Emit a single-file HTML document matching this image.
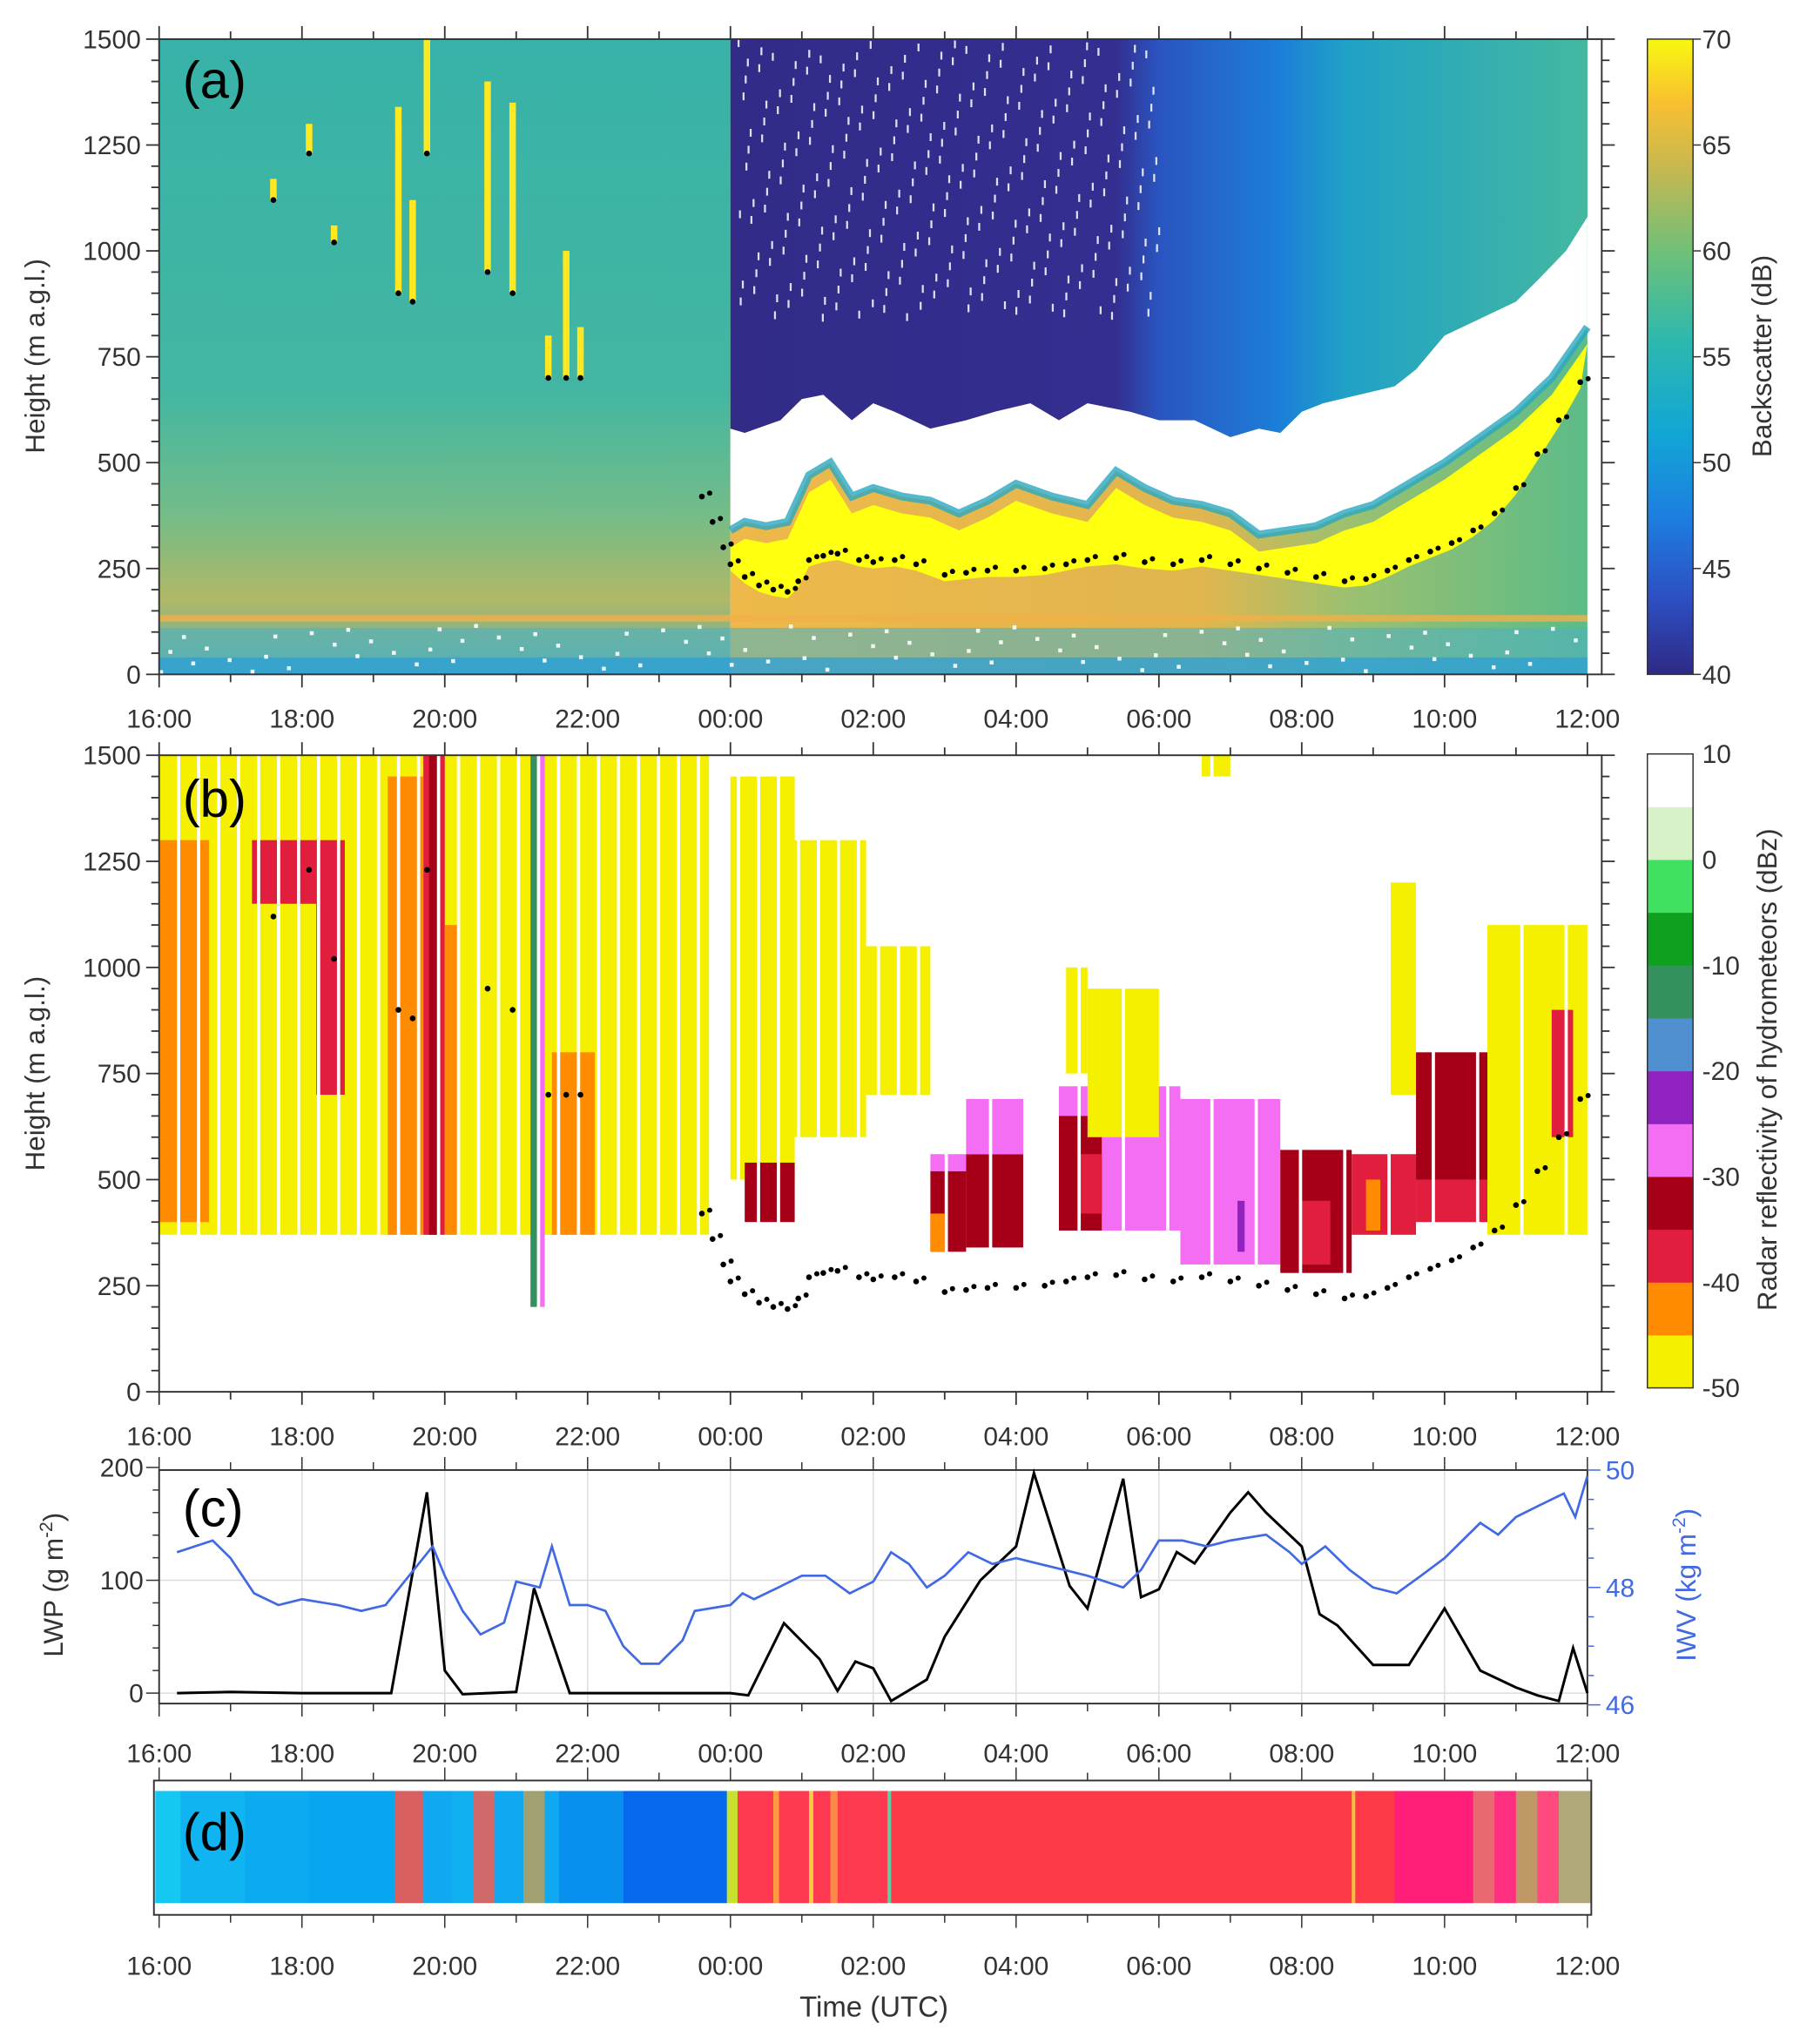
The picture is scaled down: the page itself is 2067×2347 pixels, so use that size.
<!DOCTYPE html>
<html><head><meta charset="utf-8"><style>
html,body{margin:0;padding:0;background:#fff}
svg{display:block}
text{font-family:"Liberation Sans",sans-serif;fill:#333}
</style></head><body>
<svg id="fig" width="2067" height="2347" viewBox="0 0 1380 1567" preserveAspectRatio="none" xmlns="http://www.w3.org/2000/svg">
<defs>
<linearGradient id="cbA" x1="0" y1="1" x2="0" y2="0">
<stop offset="0" stop-color="#2e2a86"/><stop offset="0.12" stop-color="#2d4fc2"/><stop offset="0.25" stop-color="#1d7fe0"/><stop offset="0.38" stop-color="#12a6d6"/><stop offset="0.52" stop-color="#2bb8b0"/><stop offset="0.66" stop-color="#6cc07a"/><stop offset="0.8" stop-color="#c8b850"/><stop offset="0.9" stop-color="#f8c030"/><stop offset="1" stop-color="#f8f810"/>
</linearGradient>
<linearGradient id="upperBlue" x1="0" y1="0" x2="1" y2="0">
<stop offset="0" stop-color="#322b88"/><stop offset="0.45" stop-color="#332f90"/><stop offset="0.5" stop-color="#2a55c0"/><stop offset="0.64" stop-color="#1c7ed8"/><stop offset="0.72" stop-color="#20a2c6"/><stop offset="1" stop-color="#44b8a0"/>
</linearGradient>
<linearGradient id="belowA" x1="0" y1="0" x2="1" y2="0">
<stop offset="0" stop-color="#eeb84a"/><stop offset="0.55" stop-color="#e0b64e"/><stop offset="0.72" stop-color="#9cc070"/><stop offset="1" stop-color="#5cbc88"/>
</linearGradient>
<linearGradient id="leftA" x1="0" y1="0" x2="0" y2="1">
<stop offset="0" stop-color="#38b2a8"/><stop offset="0.55" stop-color="#42b6a2"/><stop offset="0.75" stop-color="#74bc88"/><stop offset="0.88" stop-color="#b0b866"/><stop offset="1" stop-color="#60b0a8"/>
</linearGradient>
</defs>
<g id="root"></g>
</svg>
<script>
// ---------- DATA ----------
const hourLabels = ["16:00","18:00","20:00","22:00","00:00","02:00","04:00","06:00","08:00","10:00","12:00"];
const heightTicks = [0,250,500,750,1000,1250,1500];
const cbarATicks = [40,45,50,55,60,65,70];
const cbarBTicks = [-50,-40,-30,-20,-10,0,10];
const cbarBColors = ["#f5f000","#ff8c00","#e21e3e","#a50018","#f46ef4","#9022c0","#5090d0","#34905c","#10a020","#40e060","#d8f2c8","#ffffff"];
// cloud base height (hours after 16:00, metres)
const cbhTime = [7.6,7.75,7.9,8.0,8.2,8.4,8.6,8.8,8.95,9.1,9.3,9.5,9.8,10.0,10.3,10.6,11.0,11.3,11.6,12.0,12.4,12.7,13.0,13.4,13.8,14.2,14.6,15.0,15.4,15.8,16.2,16.6,16.9,17.2,17.5,17.8,18.1,18.4,18.7,19.0,19.3,19.6,19.9];
const cbhVal  = [420,360,300,260,230,210,200,195,220,270,280,285,270,265,270,260,235,240,245,245,250,260,270,275,265,260,270,260,250,240,230,220,225,245,270,290,310,340,380,440,520,600,690];
// liquid cloud top (top of yellow) and bottom of upper blue region
const topTime = [8.0,8.2,8.5,8.8,9.1,9.4,9.7,10.0,10.4,10.8,11.2,11.6,12.0,12.5,13.0,13.4,13.8,14.2,14.6,15.0,15.4,15.8,16.2,16.6,17.0,17.5,18.0,18.5,19.0,19.5,20.0];
const topVal  = [340,360,350,360,470,500,420,440,420,410,380,410,450,420,400,480,440,410,400,380,330,340,350,380,400,450,500,560,620,700,820];
const navTime = [8.0,8.2,8.7,9.0,9.3,9.7,10.0,10.3,10.8,11.3,11.7,12.2,12.6,13.0,13.6,14.0,14.5,15.0,15.4,15.7,16.0,16.3,16.8,17.3,17.6,18.0,18.5,19.0,19.3,19.7,20.0];
const navVal  = [580,570,600,650,660,600,640,620,580,600,620,640,600,640,620,600,600,560,580,570,620,640,660,680,720,800,840,880,930,1000,1080];
// panel (a) cirrus fall streaks (time, top, bottom)
const streakT = [1.6,2.1,2.45,3.35,3.55,3.75,4.6,4.95,5.45,5.7,5.9];
const streakTop = [1170,1300,1060,1340,1120,1500,1400,1350,800,1000,820];
const streakBot = [1120,1230,1020,900,880,1230,950,900,700,700,700];
// panel (b) regions [start h, end h, base m, top m, colour index]
const bStart = [0,0,1.3,2.2,3.2,3.7,3.78,4.0,5.5,5.2,5.3,8.0,8.9,9.9,8.2,10.8,10.8,11.3,11.3,10.8,12.6,12.6,12.9,14.3,15.1,15.7,16.0,16.7,16.9,17.6,17.6,18.6,19.5,12.7,13.0,14.6,17.2];
const bEnd   = [7.7,0.7,2.2,2.6,3.7,4.0,3.9,4.2,6.1,5.3,5.4,8.9,9.9,10.8,8.9,11.3,11.3,12.1,12.1,11.0,14.3,13.2,13.2,15.7,15.2,16.7,16.4,17.6,17.1,18.6,18.6,20.0,19.8,13.0,14.0,15.0,17.6];
const bBase  = [370,400,1150,700,370,370,370,370,370,200,200,500,600,700,400,330,520,340,560,330,380,380,420,300,330,280,300,370,380,500,400,370,600,750,600,1450,700];
const bTop   = [1500,1300,1300,1300,1450,1500,1500,1100,800,1500,1500,1450,1300,1050,540,520,560,560,690,420,720,650,560,690,450,570,450,560,500,800,500,1100,900,1000,950,1500,1200];
const bCol   = [0,1,2,2,1,2,3,1,1,7,4,0,0,0,3,3,4,3,4,1,4,3,2,4,5,3,2,2,1,3,2,0,2,0,0,0,0];
// LWP and IWV time series
const lwpTime = [0.25,1,2,3,3.25,3.75,4,4.25,5,5.25,5.75,6,7,8,8.25,8.75,9.25,9.5,9.75,10,10.25,10.75,11,11.5,12,12.25,12.75,13,13.5,13.75,14,14.25,14.5,15,15.25,15.5,16,16.25,16.5,17,17.5,18,18.5,19,19.3,19.6,19.8,20];
const lwpVal  = [0,1,0,0,0,178,20,-1,1,93,0,0,0,0,-2,62,30,2,28,22,-7,12,50,100,130,195,95,75,190,85,92,125,115,160,178,160,130,70,60,25,25,75,20,5,-2,-7,40,0];
const iwvTime = [0.25,0.75,1,1.33,1.67,2,2.5,2.83,3.17,3.5,3.83,4,4.25,4.5,4.83,5,5.33,5.5,5.75,6,6.25,6.5,6.75,7,7.33,7.5,8,8.17,8.33,8.67,9,9.33,9.67,10,10.25,10.5,10.75,11,11.33,11.67,12,12.33,12.67,13,13.5,13.75,14,14.33,14.67,15,15.5,15.83,16,16.33,16.67,17,17.33,17.67,18,18.25,18.5,18.75,19,19.33,19.67,19.83,20];
const iwvVal  = [48.6,48.8,48.5,47.9,47.7,47.8,47.7,47.6,47.7,48.2,48.7,48.2,47.6,47.2,47.4,48.1,48.0,48.7,47.7,47.7,47.6,47.0,46.7,46.7,47.1,47.6,47.7,47.9,47.8,48.0,48.2,48.2,47.9,48.1,48.6,48.4,48.0,48.2,48.6,48.4,48.5,48.4,48.3,48.2,48.0,48.3,48.8,48.8,48.7,48.8,48.9,48.6,48.4,48.7,48.3,48.0,47.9,48.2,48.5,48.8,49.1,48.9,49.2,49.4,49.6,49.2,49.9];
// panel (d) classification strip [start h, end h, colour]
const dStart = [-0.07,0.3,1.2,2.1,3.3,3.7,4.1,4.4,4.7,5.1,5.4,5.6,6.5,7.95,8.1,8.6,8.68,9.1,9.16,9.4,9.5,10.2,10.25,16.7,16.75,17.3,18.4,18.7,19.0,19.3,19.6];
const dEnd   = [0.3,1.2,2.1,3.3,3.7,4.1,4.4,4.7,5.1,5.4,5.6,6.5,7.95,8.1,8.6,8.68,9.1,9.16,9.4,9.5,10.2,10.25,16.7,16.75,17.3,18.4,18.7,19.0,19.3,19.6,20.05];
const dCol   = ["#14c8f2","#10b4f0","#0caaf0","#08a6f0","#d86060","#10a8f0","#10b0f0","#d06a6a","#10a8f0","#a0a070","#10a8f0","#0890ee","#0668ea","#c8e030","#ff3a50","#ff9a40","#ff3a50","#f0d040","#ff3a50","#ff8a48","#ff3a50","#60d0a0","#ff3a48","#f0c040","#ff3a48","#ff1e78","#e86a70","#ff3080","#c09868","#ff4a80","#b0a878"];

// ---------- HELPERS ----------
const NS="http://www.w3.org/2000/svg";
const root=document.getElementById('root');
function mk(tag,attrs,parent){const e=document.createElementNS(NS,tag);for(const k in attrs)e.setAttribute(k,attrs[k]);(parent||root).appendChild(e);return e;}
const X0=122,X1=1217;
function xH(h){return X0+h*(X1-X0)/20;}
function yA(m){return 517-m*487/1500;}
function yB(m){return 1067-m*488/1500;}
function yL(v){return 1298-v*0.865;}
function yI(v){return 1127+(50-v)*45;}

// ---------- PANEL A ----------
const gA=mk('g',{});


mk('rect',{x:xH(0),y:yA(1500),width:xH(8)-xH(0),height:yA(0)-yA(1500),fill:'url(#leftA)'},gA);
mk('rect',{x:xH(8),y:yA(1500),width:xH(20)-xH(8),height:yA(0)-yA(1500),fill:'url(#belowA)'},gA);
mk('rect',{x:xH(0),y:yA(140),width:xH(20)-xH(0),height:5,fill:'#f0b048',opacity:0.8},gA);
mk('rect',{x:xH(0),y:yA(110),width:xH(20)-xH(0),height:yA(0)-yA(110),fill:'#50b0c0',opacity:0.6},gA);
mk('rect',{x:xH(0),y:yA(40),width:xH(20)-xH(0),height:yA(0)-yA(40),fill:'#2a9ed8',opacity:0.7},gA);
for(let i=0;i<90;i++){const t=((i*3.77)%20);const m=((i*53.3)%110)+10;
 mk('rect',{x:xH(t),y:yA(m),width:3,height:3,fill:'#fff',opacity:0.9},gA);}
let p='';
for(let i=0;i<navTime.length;i++){p+=xH(navTime[i])+','+yA(navVal[i])+' ';}
p+=xH(20)+','+yA(1500)+' '+xH(8)+','+yA(1500);
mk('polygon',{points:p,fill:'url(#upperBlue)'},gA);
p='';
for(let i=0;i<navTime.length;i++){p+=xH(navTime[i])+','+yA(navVal[i])+' ';}
for(let i=topTime.length-1;i>=0;i--){p+=xH(topTime[i])+','+yA(topVal[i])+' ';}
mk('polygon',{points:p,fill:'#ffffff'},gA);
p='';
for(let i=0;i<topTime.length;i++){p+=xH(topTime[i])+','+yA(topVal[i]-40)+' ';}
for(let i=cbhTime.length-1;i>=0;i--){if(cbhTime[i]>=8)p+=xH(cbhTime[i])+','+yA(cbhVal[i]-15)+' ';}
mk('polygon',{points:p,fill:'#ffff10'},gA);
p='';
for(let i=0;i<topTime.length;i++){p+=xH(topTime[i])+','+yA(topVal[i])+' ';}
mk('polyline',{points:p,fill:'none',stroke:'#2aa8c0',"stroke-width":6,opacity:0.8},gA);
for(let i=0;i<300;i++){const t=8.1+((i*7.31)%5.9);const m=1500-((i*137.7)%650);
 mk('rect',{x:xH(t),y:yA(m),width:1.5,height:6,fill:'#fff',opacity:0.85},gA);}
for(let i=0;i<streakT.length;i++){
 mk('rect',{x:xH(streakT[i])-2.5,y:yA(streakTop[i]),width:5,height:yA(streakBot[i])-yA(streakTop[i]),fill:'#ffe820'},gA);}
for(let i=0;i<cbhTime.length;i++){
 mk('circle',{cx:xH(cbhTime[i]),cy:yA(cbhVal[i]),r:2.2,fill:'#000'},gA);
 mk('circle',{cx:xH(cbhTime[i])+6,cy:yA(cbhVal[i]+8),r:2,fill:'#000'},gA);}
for(let i=0;i<streakT.length;i++){mk('circle',{cx:xH(streakT[i]),cy:yA(streakBot[i]),r:2.2,fill:'#000'},gA);}

// ---------- PANEL B ----------
const gB=mk('g',{});


for(let i=0;i<bStart.length;i++){
 const r=mk('rect',{x:xH(bStart[i]),y:yB(bTop[i]),width:xH(bEnd[i])-xH(bStart[i]),height:yB(bBase[i])-yB(bTop[i]),fill:cbarBColors[bCol[i]]},gB);
 
 
}
for(let h=0.25;h<10.7;h+=0.28){mk('rect',{x:xH(h),y:yB(1500),width:2.5,height:yB(0)-yB(1500),fill:'#fff'},gB);}
for(let h=11.0;h<20;h+=0.62){mk('rect',{x:xH(h),y:yB(1500),width:2.5,height:yB(0)-yB(1500),fill:'#fff'},gB);}
for(let i=0;i<cbhTime.length;i++){
 mk('circle',{cx:xH(cbhTime[i]),cy:yB(cbhVal[i]),r:2.2,fill:'#000'},gB);
 mk('circle',{cx:xH(cbhTime[i])+6,cy:yB(cbhVal[i]+8),r:2,fill:'#000'},gB);}
for(let i=0;i<streakT.length;i++){mk('circle',{cx:xH(streakT[i]),cy:yB(streakBot[i]),r:2.2,fill:'#000'},gB);}

// ---------- AXES ----------
function frame(top,bot,left,right,name){
 const r=mk('rect',{x:left,y:top,width:right-left,height:bot-top,fill:'none',stroke:'#333',"stroke-width":1.3});
 
 
}
function xAxis(top,bot,labY){
 for(let h=0;h<=20;h++){const x=xH(h);const len=h%2==0?10:6;
  mk('line',{x1:x,y1:bot,x2:x,y2:bot+len,stroke:'#333',"stroke-width":1.2});
  mk('line',{x1:x,y1:top,x2:x,y2:top-len,stroke:'#333',"stroke-width":1.2});}
 for(let i=0;i<hourLabels.length;i++){const t=mk('text',{x:xH(i*2),y:labY,"font-size":20,"text-anchor":"middle"});t.textContent=hourLabels[i];
  
  }
}
function yAxisH(yf,right){
 for(let m=0;m<=1500;m+=50){const y=yf(m);const len=m%250==0?10:6;
  mk('line',{x1:X0-len,y1:y,x2:X0,y2:y,stroke:'#333',"stroke-width":1.2});
  mk('line',{x1:right,y1:y,x2:right+len,y2:y,stroke:'#333',"stroke-width":1.2});}
 for(let i=0;i<heightTicks.length;i++){const t=mk('text',{x:X0-14,y:yf(heightTicks[i])+7,"font-size":20,"text-anchor":"end"});t.textContent=heightTicks[i];
  
  }
}
frame(30,517,X0,1228,'panel-a-frame');xAxis(30,517,558);yAxisH(yA,1228);
frame(579,1067,X0,1228,'panel-b-frame');xAxis(579,1067,1108);yAxisH(yB,1228);
function ytitle(x,y,txt,name,col){const t=mk('text',{x:x,y:y,"font-size":21,"text-anchor":"middle",transform:`rotate(-90 ${x} ${y})`});t.innerHTML=txt;if(col)t.setAttribute('style','fill:'+col);
 
 }
ytitle(34,273,'Height (m a.g.l.)','y-axis-title-a');
ytitle(34,823,'Height (m a.g.l.)','y-axis-title-b');
function plabel(x,y,s,name){const t=mk('text',{x:x,y:y,"font-size":40});t.setAttribute('style','fill:#000');t.textContent=s;
 
 }
plabel(140,75,'(a)','panel-a-label');plabel(140,626,'(b)','panel-b-label');

const cbA=mk('rect',{x:1263,y:30,width:35,height:487,fill:'url(#cbA)',stroke:'#333'});


for(let i=0;i<cbarATicks.length;i++){const y=517-(cbarATicks[i]-40)/30*487;
 mk('line',{x1:1298,y1:y,x2:1304,y2:y,stroke:'#333'});
 const t=mk('text',{x:1305,y:y+7,"font-size":20});t.textContent=cbarATicks[i];
 
 }
ytitle(1358,273,'Backscatter (dB)','colorbar-a-title');
const nB=cbarBColors.length;const hB=486/nB;
for(let i=0;i<nB;i++){const r=mk('rect',{x:1263,y:1064-(i+1)*hB,width:35,height:hB+0.3,fill:cbarBColors[i]});
 
 }
mk('rect',{x:1263,y:578,width:35,height:486,fill:'none',stroke:'#333'});
for(let i=0;i<cbarBTicks.length;i++){const y=1064-(cbarBTicks[i]+50)/60*486;
 const t=mk('text',{x:1305,y:y+7,"font-size":20});t.textContent=cbarBTicks[i];
 
 }
ytitle(1362,820,'Radar reflectivity of hydrometeors (dBz)','colorbar-b-title');

// ---------- PANEL C ----------
for(let h=0;h<=20;h+=2){mk('line',{x1:xH(h),y1:1127,x2:xH(h),y2:1306,stroke:'#ddd'});}
mk('line',{x1:X0,y1:yL(100),x2:X1,y2:yL(100),stroke:'#ddd'});
mk('line',{x1:X0,y1:yL(0),x2:X1,y2:yL(0),stroke:'#ddd'});
frame(1127,1306,X0,X1,'panel-c-frame');
for(let h=0;h<=20;h++){const x=xH(h);const len=h%2==0?10:6;
 mk('line',{x1:x,y1:1306,x2:x,y2:1306+len,stroke:'#333'});mk('line',{x1:x,y1:1127,x2:x,y2:1127-len,stroke:'#333'});}
for(let i=0;i<hourLabels.length;i++){const t=mk('text',{x:xH(i*2),y:1351,"font-size":20,"text-anchor":"middle"});t.textContent=hourLabels[i];
 
 }
for(let v=0;v<=200;v+=20){mk('line',{x1:X0-(v%100==0?10:5),y1:yL(v),x2:X0,y2:yL(v),stroke:'#333'});}
[0,100,200].forEach(v=>{const t=mk('text',{x:X0-12,y:yL(v)+7,"font-size":20,"text-anchor":"end"});t.textContent=v;
 
 });
for(let v=46;v<=50;v+=0.5){mk('line',{x1:X1,y1:yI(v),x2:X1+(v%2==0?10:5),y2:yI(v),stroke:'#4169e1'});}
[46,48,50].forEach(v=>{const t=mk('text',{x:X1+14,y:yI(v)+7,"font-size":20});t.setAttribute('style','fill:#4169e1');t.textContent=v;
 
 });
ytitle(48,1215,'LWP (g m<tspan dy="-8" font-size="14">-2</tspan><tspan dy="8">)</tspan>','lwp-axis-title');
ytitle(1300,1215,'IWV (kg m<tspan dy="-8" font-size="14">-2</tspan><tspan dy="8">)</tspan>','iwv-axis-title','#4169e1');
let lp='';for(let i=0;i<Math.min(lwpTime.length,lwpVal.length);i++){lp+=xH(lwpTime[i])+','+yL(lwpVal[i])+' ';}
const lwpLine=mk('polyline',{points:lp,fill:'none',stroke:'#000',"stroke-width":2});


let ip='';for(let i=0;i<Math.min(iwvTime.length,iwvVal.length);i++){ip+=xH(iwvTime[i])+','+yI(iwvVal[i])+' ';}
const iwvLine=mk('polyline',{points:ip,fill:'none',stroke:'#4169e1',"stroke-width":1.8});


plabel(140,1170,'(c)','panel-c-label');

// ---------- PANEL D ----------
for(let i=0;i<dStart.length;i++){const x0=Math.max(119,xH(dStart[i]));const x1=Math.min(1220,xH(dEnd[i]));
 const r=mk('rect',{x:x0,y:1373,width:x1-x0+0.5,height:86,fill:dCol[i]});
 
 }
frame(1365,1468,118,1220,'panel-d-frame');
for(let h=0;h<=20;h++){const x=xH(h);const len=h%2==0?10:6;
 mk('line',{x1:x,y1:1468,x2:x,y2:1468+len,stroke:'#333'});mk('line',{x1:x,y1:1365,x2:x,y2:1365-len,stroke:'#333'});}
for(let i=0;i<hourLabels.length;i++){const t=mk('text',{x:xH(i*2),y:1514,"font-size":20,"text-anchor":"middle"});t.textContent=hourLabels[i];
 
 }
plabel(140,1418,'(d)','panel-d-label');
const xt=mk('text',{x:670,y:1546,"font-size":22,"text-anchor":"middle"});xt.textContent='Time (UTC)';


</script>
</body></html>
